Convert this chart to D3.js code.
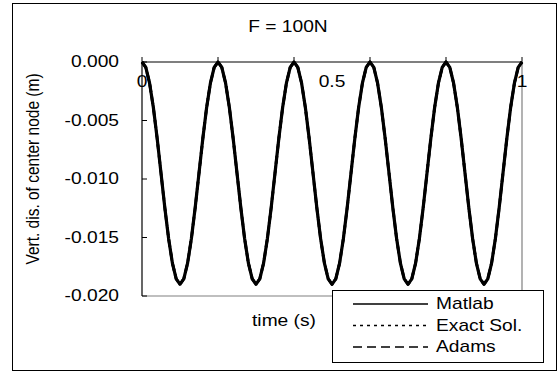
<!DOCTYPE html>
<html>
<head>
<meta charset="utf-8">
<script src="https://cdn.jsdelivr.net/npm/d3@7"></script>
<style>
  body { margin: 0; background: #fff; }
  text { font-family: "Liberation Sans", Arial, sans-serif; fill: #000; }
</style>
</head>
<body>
<svg id="chart" width="560" height="372"></svg>
<script>
const times = d3.range(0, 101).map((i) => i / 100);
const matlab = [
  0, -0.00046, -0.00181, -0.00391, -0.00656, -0.0095, -0.01244, -0.01509, -0.01719, -0.01853,
  -0.019, -0.01853, -0.01719, -0.01509, -0.01244, -0.0095, -0.00656, -0.00391, -0.00181, -0.00046,
  0, -0.00046, -0.00181, -0.00391, -0.00656, -0.0095, -0.01244, -0.01509, -0.01719, -0.01853,
  -0.019, -0.01853, -0.01719, -0.01509, -0.01244, -0.0095, -0.00656, -0.00391, -0.00181, -0.00046,
  0, -0.00046, -0.00181, -0.00391, -0.00656, -0.0095, -0.01244, -0.01509, -0.01719, -0.01853,
  -0.019, -0.01853, -0.01719, -0.01509, -0.01244, -0.0095, -0.00656, -0.00391, -0.00181, -0.00046,
  0, -0.00046, -0.00181, -0.00391, -0.00656, -0.0095, -0.01244, -0.01509, -0.01719, -0.01853,
  -0.019, -0.01853, -0.01719, -0.01509, -0.01244, -0.0095, -0.00656, -0.00391, -0.00181, -0.00046,
  0, -0.00046, -0.00181, -0.00391, -0.00656, -0.0095, -0.01244, -0.01509, -0.01719, -0.01853,
  -0.019, -0.01853, -0.01719, -0.01509, -0.01244, -0.0095, -0.00656, -0.00391, -0.00181, -0.00046,
  0
];
// the three solutions lie on top of each other
const exact = matlab.slice();
const adams = matlab.slice();

const seriesNames = ["Matlab", "Exact Sol.", "Adams"];
const yTicks = [0, -0.005, -0.01, -0.015, -0.02];
const xTickMarks = [0, 0.2, 0.4, 0.6, 0.8, 1];
const xTickLabels = [0, 0.5, 1];

const svg = d3.select("#chart");
const fs = 16;
const stretch = 1.2;

// text is a bit wider than normal in the picture, stretch it on screen x
function label(g, x, y, str, anchor, rotate) {
  return g.append("text")
    .attr("transform", `translate(${x},${y}) scale(${stretch},1)` + (rotate ? " rotate(-90)" : ""))
    .attr("text-anchor", anchor || "middle")
    .attr("dominant-baseline", "central")
    .style("font-size", (rotate ? fs - 0.5 : fs) + "px")
    .text(str);
}

// outer frame
svg.append("rect")
  .attr("x", 12.5).attr("y", 3.5).attr("width", 544).attr("height", 367)
  .attr("fill", "#fff").attr("stroke", "#000").attr("stroke-width", 1);

const x = d3.scaleLinear().domain([0, 1]).range([142, 522]);
const y = d3.scaleLinear().domain([-0.02, 0]).range([296, 62]);

// plot border: right and bottom gray
svg.append("path")
  .attr("d", `M${x(1)},${y(0)}V${y(-0.02)}H${x(0)}`)
  .attr("fill", "none").attr("stroke", "#808080").attr("stroke-width", 1.2);

// x axis at y = 0 with ticks pointing up
const xAxis = svg.append("g");
xAxis.append("line")
  .attr("x1", x(0)).attr("x2", x(1)).attr("y1", y(0)).attr("y2", y(0))
  .attr("stroke", "#000").attr("stroke-width", 1.2);
xAxis.selectAll(".xt").data(xTickMarks).join("line")
  .attr("x1", (d) => x(d)).attr("x2", (d) => x(d))
  .attr("y1", y(0)).attr("y2", y(0) - 5)
  .attr("stroke", "#000");

// y axis with ticks pointing in
const yAxis = svg.append("g");
yAxis.append("line")
  .attr("x1", x(0)).attr("x2", x(0)).attr("y1", y(0)).attr("y2", y(-0.02))
  .attr("stroke", "#000").attr("stroke-width", 1.2);
yAxis.selectAll(".yt").data(yTicks).join("line")
  .attr("x1", x(0)).attr("x2", x(0) + 5)
  .attr("y1", (d) => y(d)).attr("y2", (d) => y(d))
  .attr("stroke", "#000");
yTicks.forEach((t) => label(svg, 119, y(t), d3.format(".3f")(t).replace("−", "-"), "end"));

// curves
const line = d3.line().x((d, i) => x(times[i])).y((d) => y(d));
const styles = [
  { data: matlab, dash: null, w: 3.2 },
  { data: exact, dash: "2 3", w: 2.4 },
  { data: adams, dash: "8 4", w: 2.8 }
];
styles.forEach((s) => {
  svg.append("path")
    .datum(s.data)
    .attr("d", line)
    .attr("fill", "none")
    .attr("stroke", "#000")
    .attr("stroke-width", s.w)
    .attr("stroke-linejoin", "round")
    .attr("stroke-dasharray", s.dash);
});

// x tick labels sit inside the plot, under the top axis
xTickLabels.forEach((t) => label(svg, x(t), 82, String(t)));

// titles
label(svg, 288, 27, "F = 100N");
label(svg, 284, 321, "time (s)");
label(svg, 33, 169, "Vert. dis. of center node (m)", "middle", true);

// legend
const legend = svg.append("g");
legend.append("rect")
  .attr("x", 332.5).attr("y", 290.5).attr("width", 211).attr("height", 72)
  .attr("fill", "#fff").attr("stroke", "#000");
const legendDash = [null, "3 4", "9 5"];
seriesNames.forEach((n, i) => {
  const ly = 304 + i * 21.5;
  legend.append("line")
    .attr("x1", 353).attr("x2", 428).attr("y1", ly).attr("y2", ly)
    .attr("stroke", "#000").attr("stroke-width", i === 1 ? 1.5 : 1.6)
    .attr("stroke-dasharray", legendDash[i]);
  label(legend, 436, ly, n, "start");
});
</script>
</body>
</html>
